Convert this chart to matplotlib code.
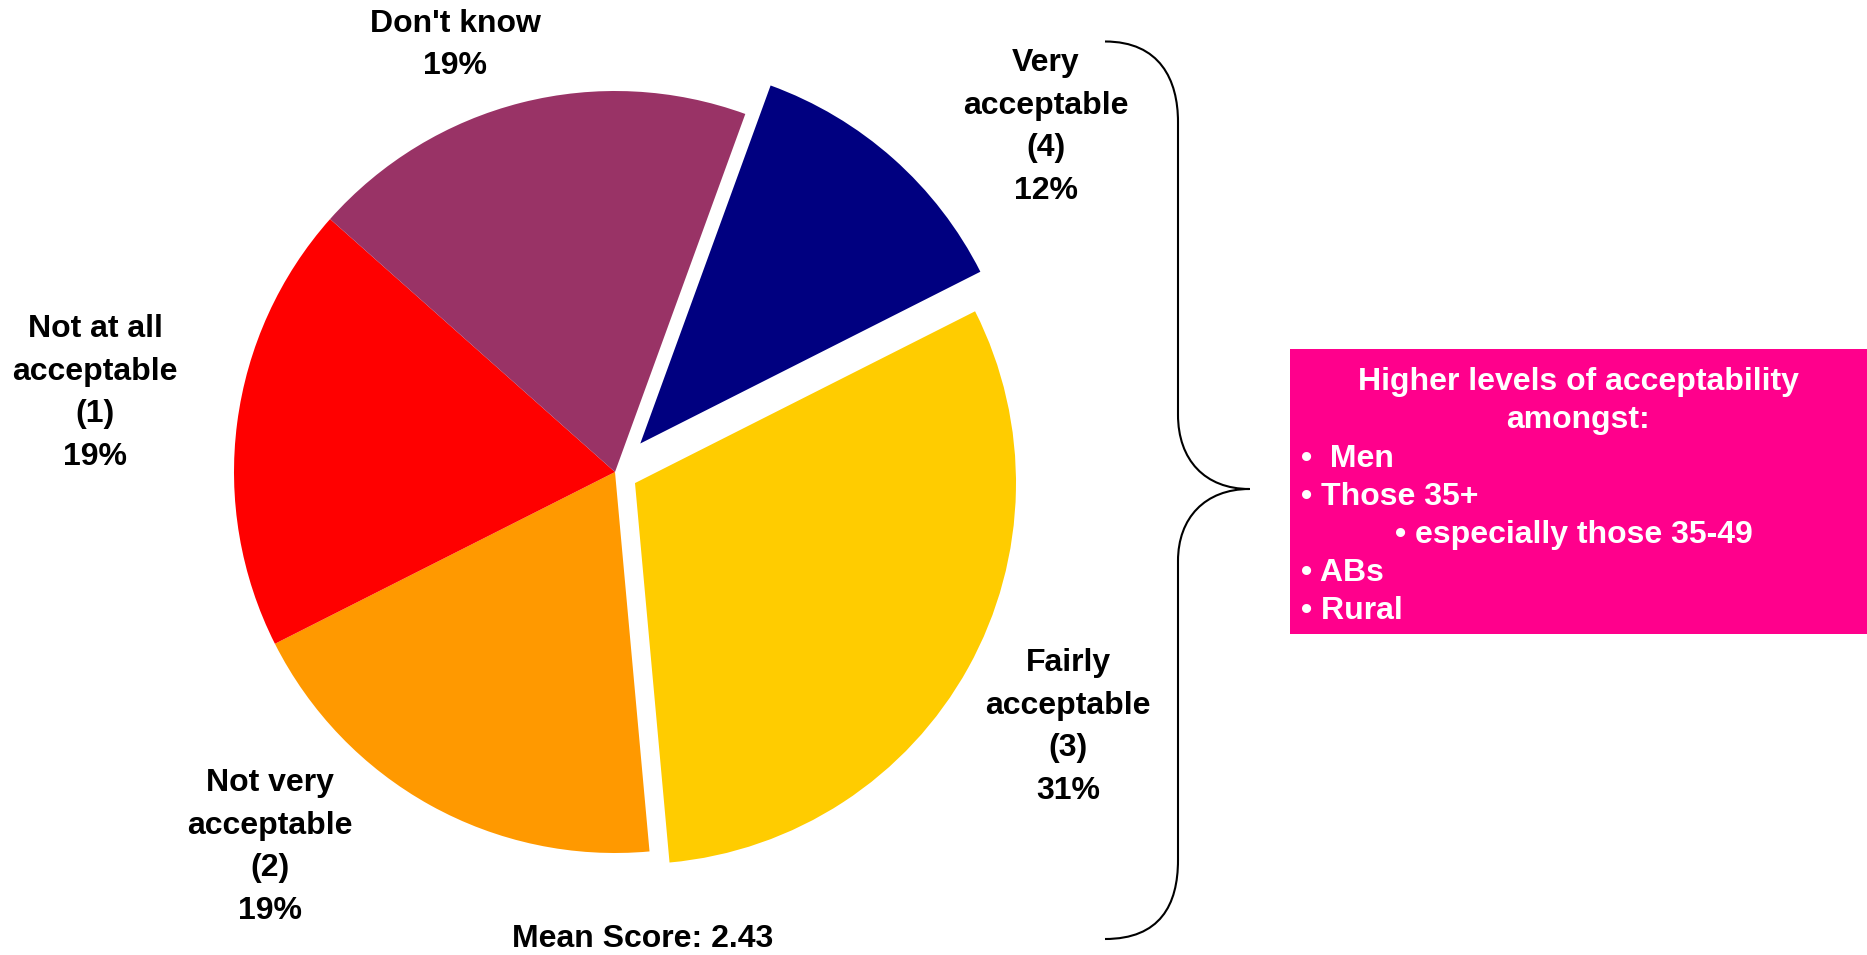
import matplotlib
matplotlib.use("Agg")
import matplotlib.pyplot as plt
from matplotlib.path import Path
from matplotlib.patches import PathPatch, Rectangle

plt.rcParams['font.family'] = ['Liberation Sans', 'DejaVu Sans']
plt.rcParams['font.weight'] = 'bold'

# data
categories = ["Very\nacceptable\n(4)", "Fairly\nacceptable\n(3)", "Not very\nacceptable\n(2)",
              "Not at all\nacceptable\n(1)", "Don't know"]
shares = [12, 31, 19, 19, 19]
colours = ["#000080", "#FFCC00", "#FF9900", "#FF0000", "#993366"]
explode = [0.10, 0.06, 0, 0, 0]   # fraction of radius
mean_score = 2.43
box_title = "Higher levels of acceptability\namongst:"
box_items = ["\u2022  Men", "\u2022 Those 35+", "\u2022 especially those 35-49", "\u2022 ABs", "\u2022 Rural"]
box_indent = [0, 0, 1, 0, 0]

W, H = 1867, 955
fig = plt.figure(figsize=(W / 100, H / 100), dpi=100)
ax = fig.add_axes([0, 0, 1, 1])

cx, cy, r = 615, H - 472, 381
ax.pie(shares, colors=colours, explode=[e * r for e in explode], startangle=70,
       counterclock=False, center=(cx, cy), radius=r, frame=True,
       wedgeprops=dict(linewidth=0))
ax.set_xlim(0, W)
ax.set_ylim(0, H)
ax.set_aspect('equal')
ax.axis('off')

# label positions (pixels, origin top-left)
label_pos = [(1046, 127), (1068, 727), (270, 847), (95, 393), (455, 45)]
fs = 23
for cat, v, (x, y) in zip(categories, shares, label_pos):
    ax.text(x, H - y, "{}\n{}%".format(cat, v), ha='center', va='center',
            fontsize=fs, fontweight='bold', linespacing=1.54)

ax.text(643, H - 939, "Mean Score: {:.2f}".format(mean_score), ha='center', va='center',
        fontsize=fs, fontweight='bold')

# curly brace
def p(x, y):
    return (x, H - y)

verts = [p(1105, 41.5), p(1160, 41.5), p(1178, 80), p(1178, 122),
         p(1178, 414.6),
         p(1178, 460), p(1205, 489), p(1249.5, 489),
         p(1205, 489), p(1178, 518), p(1178, 561),
         p(1178, 860),
         p(1178, 905), p(1160, 939), p(1105, 939)]
codes = [Path.MOVETO, Path.CURVE4, Path.CURVE4, Path.CURVE4,
         Path.LINETO,
         Path.CURVE4, Path.CURVE4, Path.CURVE4,
         Path.CURVE4, Path.CURVE4, Path.CURVE4,
         Path.LINETO,
         Path.CURVE4, Path.CURVE4, Path.CURVE4]
ax.add_patch(PathPatch(Path(verts, codes), facecolor='none', edgecolor='black', linewidth=1.5))

# pink box
bx0, by0, bx1, by1 = 1289.5, 349, 1867, 633.5
ax.add_patch(Rectangle((bx0, H - by1), bx1 - bx0, by1 - by0, facecolor="#FF008C", edgecolor='none'))
ax.text((bx0 + bx1) / 2, H - 401, box_title, ha='center', va='center', color='white',
        fontsize=fs, fontweight='bold', linespacing=1.34)
for i, (item, ind) in enumerate(zip(box_items, box_indent)):
    ax.text(1301 + 94 * ind, H - (459 + 38 * i), item, ha='left', va='center', color='white',
            fontsize=fs, fontweight='bold')

fig.savefig("out.png", dpi=100)
